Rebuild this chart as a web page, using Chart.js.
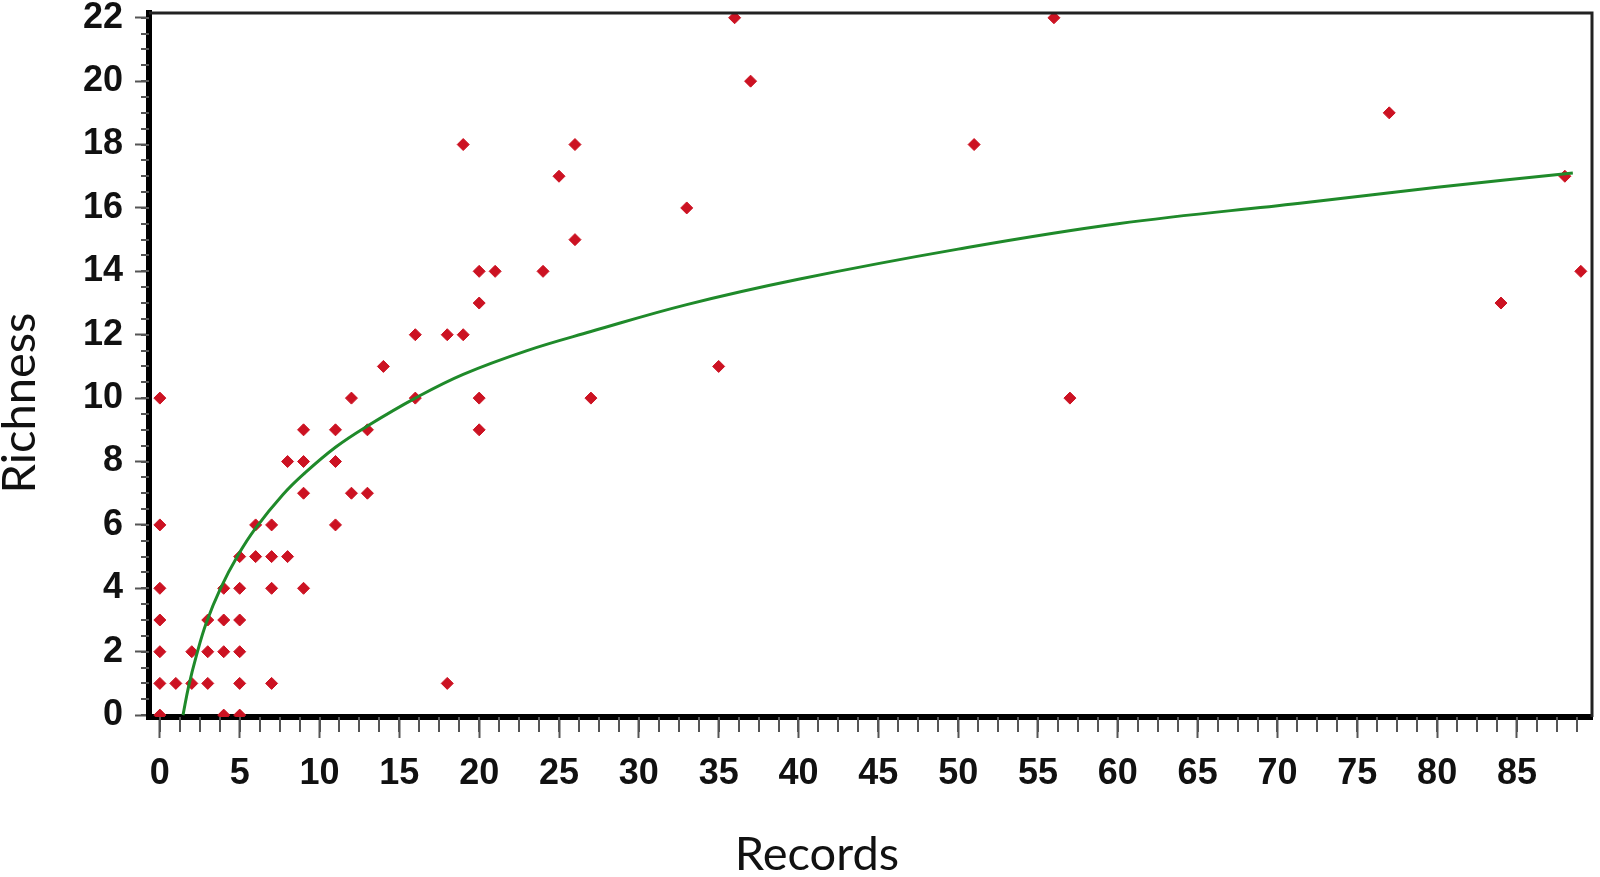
<!DOCTYPE html>
<html>
<head>
<meta charset="utf-8">
<script src="https://cdn.jsdelivr.net/npm/chart.js@4.4.1/dist/chart.umd.min.js"></script>
<style>
  html, body { margin: 0; padding: 0; background: #fff; }
  #wrap { width: 1600px; height: 877px; position: relative; }
</style>
</head>
<body>
<div id="wrap"><canvas id="chartRichness"></canvas></div>
<script>
// observed sites: number of records vs species richness
const recordsX = [0, 0, 0, 0, 0, 0, 0, 1, 2, 2, 3, 3, 3, 4, 4, 4, 4, 5, 5, 5, 5, 5, 5,
  6, 6, 7, 7, 7, 7, 8, 8, 9, 9, 9, 9, 11, 11, 11, 12, 12, 13, 13, 14, 16, 16, 18, 18,
  19, 19, 20, 20, 20, 20, 21, 24, 25, 26, 26, 27, 33, 35, 36, 37, 51, 56, 57, 77, 84, 88, 89];
const richnessY = [10, 6, 4, 3, 2, 1, 0, 1, 2, 1, 3, 2, 1, 4, 3, 2, 0, 5, 4, 3, 2, 1, 0,
  6, 5, 6, 5, 4, 1, 8, 5, 9, 8, 7, 4, 9, 8, 6, 10, 7, 9, 7, 11, 12, 10, 12, 1,
  18, 12, 14, 13, 10, 9, 14, 14, 17, 18, 15, 10, 16, 11, 22, 20, 18, 22, 10, 19, 13, 17, 14];

// fitted curve
const fitX = [1.45, 1.8, 2.3, 2.9, 3.8, 4.9, 6, 7.7, 9, 11, 13, 16, 19, 23, 27, 33, 40, 50, 60, 71.4, 80, 88.5];
const fitY = [0, 0.9, 1.9, 2.9, 4.0, 5.05, 5.9, 6.95, 7.6, 8.45, 9.12, 10.0, 10.75, 11.5, 12.1, 12.95, 13.75, 14.7, 15.5, 16.15, 16.65, 17.1];

const xTickValues = [0, 5, 10, 15, 20, 25, 30, 35, 40, 45, 50, 55, 60, 65, 70, 75, 80, 85];
const yTickValues = [0, 2, 4, 6, 8, 10, 12, 14, 16, 18, 20, 22];

const xTitle = 'Records';
const yTitle = 'Richness';

const tickFont = { family: '"Liberation Sans", Arial, sans-serif', size: 36, weight: 'bold' };
const titleFont = '47px Lato, "Open Sans", sans-serif';

// minor ticks, top/right frame and axis titles
const extras = {
  id: 'extras',
  afterDraw(chart) {
    const { ctx, chartArea, scales } = chart;
    const { x, y } = scales;
    ctx.save();
    ctx.strokeStyle = '#555';
    ctx.lineWidth = 2;
    ctx.beginPath();
    for (let v = 0; v <= x.max; v += 1.25) {
      const px = Math.round(x.getPixelForValue(v));
      ctx.moveTo(px, chartArea.bottom);
      ctx.lineTo(px, chartArea.bottom + 15);
    }
    for (let v = 0; v <= y.max; v += 0.5) {
      const py = Math.round(y.getPixelForValue(v));
      ctx.moveTo(chartArea.left, py);
      ctx.lineTo(chartArea.left - 8, py);
    }
    ctx.stroke();

    ctx.strokeStyle = '#222';
    ctx.lineWidth = 3;
    ctx.beginPath();
    ctx.moveTo(chartArea.left, chartArea.top);
    ctx.lineTo(chartArea.right, chartArea.top);
    ctx.lineTo(chartArea.right, chartArea.bottom);
    ctx.stroke();

    ctx.fillStyle = '#000';
    ctx.fillRect(chartArea.left - 3, chartArea.bottom - 3, 6, 6);

    ctx.fillStyle = '#111';
    ctx.font = titleFont;
    ctx.textAlign = 'center';
    ctx.textBaseline = 'middle';
    ctx.fillText(xTitle, 817, 855);
    ctx.translate(20, 403);
    ctx.rotate(-Math.PI / 2);
    ctx.fillText(yTitle, 0, 0);
    ctx.restore();
  },
};

const ctx = document.getElementById('chartRichness').getContext('2d');
const chartRichness = new Chart(ctx, {
  type: 'scatter',
  data: {
    datasets: [
      {
        label: 'Fit',
        data: fitX.map((v, i) => ({ x: v, y: fitY[i] })),
        showLine: true,
        borderColor: '#1f8a2a',
        borderWidth: 3,
        pointRadius: 0,
        tension: 0.4,
        order: 0,
      },
      {
        label: 'Sites',
        data: recordsX.map((v, i) => ({ x: v, y: richnessY[i] })),
        pointStyle: 'rectRot',
        pointRadius: 6,
        backgroundColor: '#cc1222',
        borderColor: '#cc1222',
        borderWidth: 1,
        order: 1,
      },
    ],
  },
  options: {
    responsive: true,
    maintainAspectRatio: false,
    animation: false,
    layout: { padding: { top: 13, right: 8, left: 0, bottom: 0 } },
    plugins: {
      legend: { display: false },
      tooltip: { enabled: false },
    },
    scales: {
      x: {
        type: 'linear',
        min: -0.68,
        max: 89.7,
        z: 1,
        afterBuildTicks: (scale) => { scale.ticks = xTickValues.map((v) => ({ value: v })); },
        afterFit: (scale) => {
          scale.height = 160;
          scale.paddingLeft = 0;
          scale.paddingRight = 0;
        },
        grid: { drawOnChartArea: false, tickLength: 21, tickWidth: 2, tickColor: '#555' },
        border: { color: '#000', width: 6 },
        ticks: { font: tickFont, color: '#111', padding: 14, maxRotation: 0, autoSkip: false },
      },
      y: {
        type: 'linear',
        min: -0.06,
        max: 22.15,
        z: 1,
        afterBuildTicks: (scale) => { scale.ticks = yTickValues.map((v) => ({ value: v })); },
        afterFit: (scale) => {
          scale.width = 149;
          scale.paddingTop = 0;
          scale.paddingBottom = 0;
        },
        grid: { drawOnChartArea: false, tickLength: 14, tickWidth: 2, tickColor: '#555' },
        border: { color: '#000', width: 6 },
        ticks: { font: tickFont, color: '#111', padding: 12, autoSkip: false },
      },
    },
  },
  plugins: [extras],
});
</script>
</body>
</html>
